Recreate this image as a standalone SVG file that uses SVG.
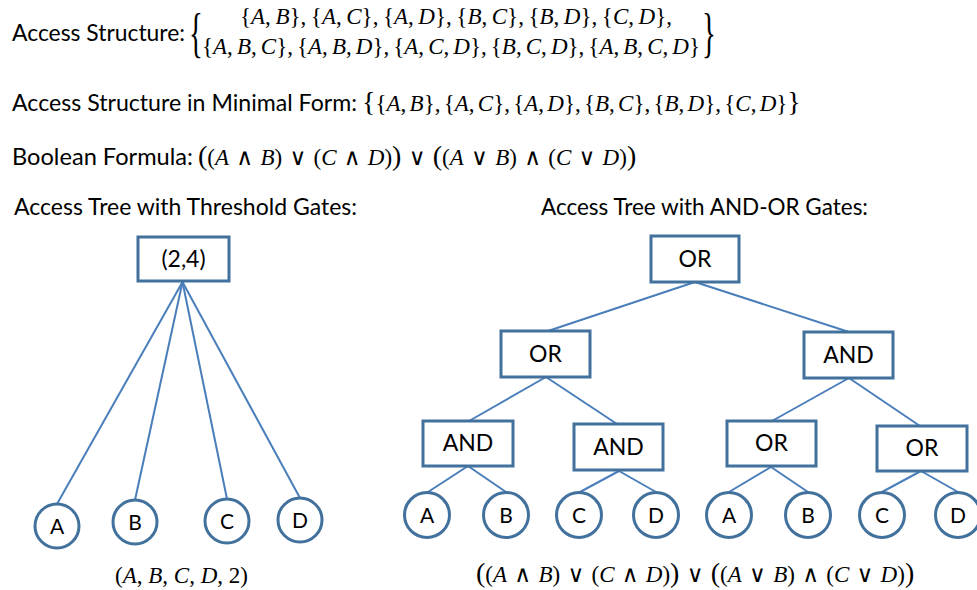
<svg xmlns="http://www.w3.org/2000/svg" width="977" height="590" viewBox="0 0 977 590">
  <style>
    .lbl { font-family: Lato, "Open Sans", sans-serif; font-size: 23px; fill: #000; }
    .node { font-family: Lato, "Open Sans", sans-serif; font-size: 23px; fill: #000; text-anchor: middle; }
    .leaf { font-family: Lato, "Open Sans", sans-serif; font-size: 21px; fill: #000; text-anchor: middle; }
    .m { font-family: "Liberation Serif", "DejaVu Serif", serif; font-size: 23px; fill: #000; }
    .v { font-style: italic; }
    .big { font-size: 28px; }
    .brace { font-family: "Liberation Serif", "DejaVu Serif", serif; font-size: 48px; fill: #000; }
    .gate { fill: #fff; stroke: #41719C; stroke-width: 3; }
    .var { fill: #fff; stroke: #41719C; stroke-width: 3; }
    .edge { stroke: #4A7EBB; stroke-width: 2; fill: none; }
  </style>

  <rect width="977" height="590" fill="#fff"/>

  <!-- Header formulas -->
  <g id="access-structure">
    <text class="lbl" x="12" y="41" textLength="173" lengthAdjust="spacingAndGlyphs">Access Structure:</text>
    <text class="brace" x="0" y="0" transform="translate(189,51) scale(0.6,1.15)">{</text>
    <text class="m" x="240" y="24" word-spacing="-1.2">{<tspan class="v">A</tspan>, <tspan class="v">B</tspan>}, {<tspan class="v">A</tspan>, <tspan class="v">C</tspan>}, {<tspan class="v">A</tspan>, <tspan class="v">D</tspan>}, {<tspan class="v">B</tspan>, <tspan class="v">C</tspan>}, {<tspan class="v">B</tspan>, <tspan class="v">D</tspan>}, {<tspan class="v">C</tspan>, <tspan class="v">D</tspan>},</text>
    <text class="m" x="202" y="54" word-spacing="-1.7">{<tspan class="v">A</tspan>, <tspan class="v">B</tspan>, <tspan class="v">C</tspan>}, {<tspan class="v">A</tspan>, <tspan class="v">B</tspan>, <tspan class="v">D</tspan>}, {<tspan class="v">A</tspan>, <tspan class="v">C</tspan>, <tspan class="v">D</tspan>}, {<tspan class="v">B</tspan>, <tspan class="v">C</tspan>, <tspan class="v">D</tspan>}, {<tspan class="v">A</tspan>, <tspan class="v">B</tspan>, <tspan class="v">C</tspan>, <tspan class="v">D</tspan>}</text>
    <text class="brace" x="0" y="0" transform="translate(702,51) scale(0.6,1.15)">}</text>
  </g>

  <g id="minimal-form">
    <text class="lbl" x="12" y="111" textLength="345" lengthAdjust="spacingAndGlyphs">Access Structure in Minimal Form:</text>
    <text class="m" x="362" y="111" word-spacing="-2.5"><tspan class="big">{</tspan>{<tspan class="v">A</tspan>, <tspan class="v">B</tspan>}, {<tspan class="v">A</tspan>, <tspan class="v">C</tspan>}, {<tspan class="v">A</tspan>, <tspan class="v">D</tspan>}, {<tspan class="v">B</tspan>, <tspan class="v">C</tspan>}, {<tspan class="v">B</tspan>, <tspan class="v">D</tspan>}, {<tspan class="v">C</tspan>, <tspan class="v">D</tspan>}<tspan class="big">}</tspan></text>
  </g>

  <g id="boolean-formula">
    <text class="lbl" x="12" y="165" textLength="181" lengthAdjust="spacingAndGlyphs">Boolean Formula:</text>
    <text class="m" x="198" y="165" word-spacing="1.5"><tspan class="big">(</tspan>(<tspan class="v">A</tspan> ∧ <tspan class="v">B</tspan>) ∨ (<tspan class="v">C</tspan> ∧ <tspan class="v">D</tspan>)<tspan class="big">)</tspan> ∨ <tspan class="big">(</tspan>(<tspan class="v">A</tspan> ∨ <tspan class="v">B</tspan>) ∧ (<tspan class="v">C</tspan> ∨ <tspan class="v">D</tspan>)<tspan class="big">)</tspan></text>
  </g>

  <text class="lbl" x="14" y="215" textLength="343" lengthAdjust="spacingAndGlyphs">Access Tree with Threshold Gates:</text>
  <text class="lbl" x="541" y="215" textLength="327" lengthAdjust="spacingAndGlyphs">Access Tree with AND-OR Gates:</text>

  <!-- Connectors -->
  <g id="connectors" class="edge">
    <!-- threshold tree -->
    <line class="edge" x1="182.5" y1="282" x2="57" y2="504"/>
    <line class="edge" x1="182.5" y1="282" x2="135" y2="500"/>
    <line class="edge" x1="182.5" y1="282" x2="227" y2="499"/>
    <line class="edge" x1="182.5" y1="282" x2="300" y2="498"/>
    <!-- AND-OR tree -->
    <line class="edge" x1="695" y1="282" x2="548" y2="331"/>
    <line class="edge" x1="695" y1="282" x2="849" y2="332"/>
    <line class="edge" x1="546" y1="377" x2="469" y2="421"/>
    <line class="edge" x1="546" y1="377" x2="617" y2="424"/>
    <line class="edge" x1="849" y1="378" x2="772" y2="421"/>
    <line class="edge" x1="849" y1="378" x2="920" y2="426"/>
    <line class="edge" x1="468" y1="466" x2="428" y2="492"/>
    <line class="edge" x1="468" y1="466" x2="506" y2="492"/>
    <line class="edge" x1="619" y1="471" x2="580" y2="492"/>
    <line class="edge" x1="619" y1="471" x2="656" y2="492"/>
    <line class="edge" x1="771" y1="467" x2="729" y2="492"/>
    <line class="edge" x1="771" y1="467" x2="808" y2="492"/>
    <line class="edge" x1="921" y1="471" x2="882" y2="492"/>
    <line class="edge" x1="921" y1="471" x2="958" y2="492"/>
  </g>

  <!-- Threshold tree -->
  <g id="t-root">
    <rect class="gate" x="138" y="237" width="91" height="44"/>
    <text class="node" x="183.5" y="267">(2,4)</text>
  </g>
  <g id="t-a"><circle class="var" cx="57" cy="526" r="22"/><text class="leaf" x="57" y="533.5">A</text></g>
  <g id="t-b"><circle class="var" cx="135" cy="522" r="22"/><text class="leaf" x="135" y="529.5">B</text></g>
  <g id="t-c"><circle class="var" cx="227" cy="521" r="22"/><text class="leaf" x="227" y="528.5">C</text></g>
  <g id="t-d"><circle class="var" cx="300" cy="520" r="22"/><text class="leaf" x="300" y="527.5">D</text></g>
  <text class="m" x="115" y="583">(<tspan class="v">A</tspan>, <tspan class="v">B</tspan>, <tspan class="v">C</tspan>, <tspan class="v">D</tspan>, 2)</text>

  <!-- AND-OR tree -->
  <g id="g-root"><rect class="gate" x="651" y="236" width="88" height="46"/><text class="node" x="695" y="267">OR</text></g>
  <g id="g-or"><rect class="gate" x="501" y="331" width="89" height="46"/><text class="node" x="545.5" y="362">OR</text></g>
  <g id="g-and"><rect class="gate" x="804" y="332" width="89" height="46"/><text class="node" x="848.5" y="363">AND</text></g>
  <g id="g-and-ab"><rect class="gate" x="423" y="421" width="90" height="45"/><text class="node" x="468" y="451">AND</text></g>
  <g id="g-and-cd"><rect class="gate" x="574" y="424" width="89" height="46"/><text class="node" x="618.5" y="455">AND</text></g>
  <g id="g-or-ab"><rect class="gate" x="727" y="421" width="89" height="45"/><text class="node" x="771.5" y="451">OR</text></g>
  <g id="g-or-cd"><rect class="gate" x="877" y="426" width="90" height="45"/><text class="node" x="922" y="456">OR</text></g>

  <g id="l-a1"><circle class="var" cx="427" cy="515" r="22.5"/><text class="leaf" x="427" y="522.5">A</text></g>
  <g id="l-b1"><circle class="var" cx="506" cy="515" r="22.5"/><text class="leaf" x="506" y="522.5">B</text></g>
  <g id="l-c1"><circle class="var" cx="579" cy="515" r="22.5"/><text class="leaf" x="579" y="522.5">C</text></g>
  <g id="l-d1"><circle class="var" cx="656" cy="515" r="22.5"/><text class="leaf" x="656" y="522.5">D</text></g>
  <g id="l-a2"><circle class="var" cx="729" cy="515" r="22.5"/><text class="leaf" x="729" y="522.5">A</text></g>
  <g id="l-b2"><circle class="var" cx="808" cy="515" r="22.5"/><text class="leaf" x="808" y="522.5">B</text></g>
  <g id="l-c2"><circle class="var" cx="882" cy="515" r="22.5"/><text class="leaf" x="882" y="522.5">C</text></g>
  <g id="l-d2"><circle class="var" cx="958" cy="515" r="22.5"/><text class="leaf" x="958" y="522.5">D</text></g>

  <text class="m" x="476" y="582" word-spacing="1.5"><tspan class="big">(</tspan>(<tspan class="v">A</tspan> ∧ <tspan class="v">B</tspan>) ∨ (<tspan class="v">C</tspan> ∧ <tspan class="v">D</tspan>)<tspan class="big">)</tspan> ∨ <tspan class="big">(</tspan>(<tspan class="v">A</tspan> ∨ <tspan class="v">B</tspan>) ∧ (<tspan class="v">C</tspan> ∨ <tspan class="v">D</tspan>)<tspan class="big">)</tspan></text>
</svg>
